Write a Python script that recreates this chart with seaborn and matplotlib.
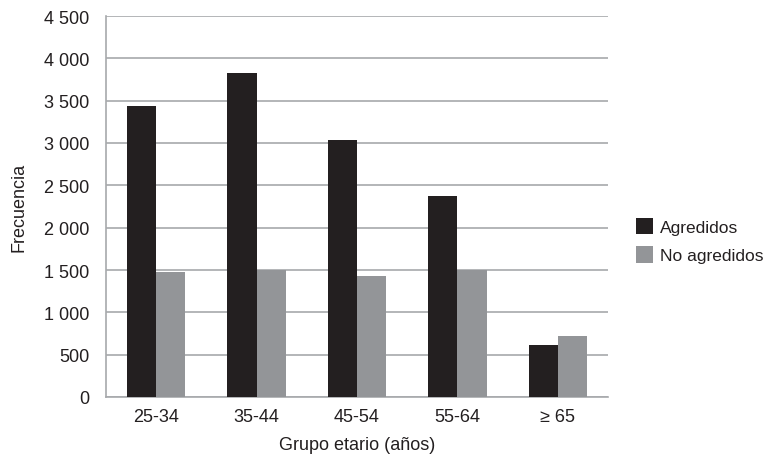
import pandas as pd
import seaborn as sns
import matplotlib.pyplot as plt
from matplotlib.ticker import FuncFormatter

# ---------------------------
# Data
# ---------------------------
grupos = ['25-34', '35-44', '45-54', '55-64', '≥ 65']
agredidos = [3440, 3830, 3030, 2370, 615]
no_agredidos = [1480, 1500, 1430, 1495, 720]
series = ['Agredidos', 'No agredidos']
colores = ['#231f20', '#939598']

df = pd.DataFrame({
    'grupo': grupos * 2,
    'serie': [series[0]] * len(grupos) + [series[1]] * len(grupos),
    'valor': agredidos + no_agredidos,
})

# ---------------------------
# Plot
# ---------------------------
sns.set_style('white')
plt.rcParams['font.family'] = ['Liberation Sans', 'DejaVu Sans']

fig = plt.figure(figsize=(7.66, 4.6), dpi=100)
ax = fig.add_axes([106 / 766, 1 - 398 / 460, 502 / 766, 381 / 460])

sns.barplot(data=df, x='grupo', y='valor', hue='serie', palette=colores,
            width=0.58, saturation=1, linewidth=0, ax=ax, zorder=3)

ax.set_ylim(0, 4500)
ax.set_yticks(range(0, 4501, 500))
ax.yaxis.set_major_formatter(FuncFormatter(lambda v, p: f'{int(v):,}'.replace(',', ' ')))
ax.grid(axis='y', color='#a7a9ac', linewidth=1.2, zorder=0)
ax.set_axisbelow(True)

for side in ['top', 'right']:
    ax.spines[side].set_visible(False)
for side in ['left', 'bottom']:
    ax.spines[side].set_color('#a7a9ac')
    ax.spines[side].set_linewidth(1.2)

ax.tick_params(axis='y', length=8, color='#a7a9ac', width=1.2, labelsize=13, pad=4,
               labelcolor='#231f20')
ax.tick_params(axis='x', length=0, labelsize=13, pad=8, labelcolor='#231f20')

ax.set_xlabel('Grupo etario (años)', fontsize=13, labelpad=8, color='#231f20')
ax.set_ylabel('Frecuencia', fontsize=13, labelpad=12, color='#231f20')

leg = ax.legend(title=None, frameon=False, fontsize=12.5, loc='center left',
                bbox_to_anchor=(1.055, 0.41), handlelength=1.0, handleheight=1.05,
                handletextpad=0.4, labelspacing=0.65, borderaxespad=0,
                borderpad=0)
for t in leg.get_texts():
    t.set_color('#231f20')

plt.savefig('out.png', dpi=100)
